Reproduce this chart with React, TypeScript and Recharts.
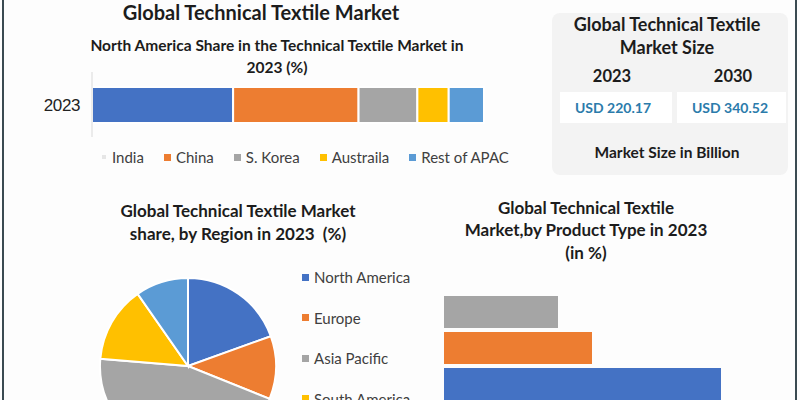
import React from "react";
import { BarChart, Bar, XAxis, YAxis, PieChart, Pie, Cell } from "recharts";

// north america share, stacked bar (values in %)
const barYear = ["2023"];
const apacCountries = ["India", "China", "S. Korea", "Austraila", "Rest of APAC"];
const apacShare = [36, 32, 15, 8, 9];
const apacColors = ["#4472C4", "#ED7D31", "#A5A5A5", "#FFC000", "#5B9BD5"];
const apacLegendColors = ["#e6e6e6", "#ED7D31", "#A5A5A5", "#FFC000", "#5B9BD5"];

// region pie (values in %)
const regionNames = ["North America", "Europe", "Asia Pacific", "South America", "Middle East & Africa"];
const regionShare = [19.5, 11.6, 45.2, 14, 9.7];
const regionColors = ["#4472C4", "#ED7D31", "#A5A5A5", "#FFC000", "#5B9BD5"];

// product type bars (only the top three are visible, labels not shown)
const productTypes = ["Type 1", "Type 2", "Type 3"];
const productShare = [11.4, 14.8, 27.7];
const productColors = ["#A5A5A5", "#ED7D31", "#4472C4"];

// market size panel
const marketYears = ["2023", "2030"];
const marketValues = ["USD 220.17", "USD 340.52"];

const FONT = "Lato, 'Open Sans', sans-serif";
const DARK = "#1c1c1c";

const stackData = barYear.map((year) => {
  const row: Record<string, string | number> = { year };
  apacCountries.forEach((c, i) => (row[c] = apacShare[i]));
  return row;
});

const pieData = regionNames.map((name, i) => ({ name, value: regionShare[i] }));
const productData = productTypes.map((type, i) => ({ type, share: productShare[i] }));

function Text({
  x,
  y,
  w,
  size,
  weight = 700,
  color = DARK,
  children,
}: {
  x: number;
  y: number;
  w: number;
  size: number;
  weight?: number;
  color?: string;
  children: React.ReactNode;
}) {
  // x = center, y = vertical center of the line
  return (
    <div
      style={{
        position: "absolute",
        left: x - w / 2,
        top: y - size * 0.7,
        width: w,
        lineHeight: `${size * 1.4}px`,
        fontSize: size,
        fontWeight: weight,
        color,
        textAlign: "center",
        whiteSpace: "nowrap",
      }}
    >
      {children}
    </div>
  );
}

export default function App() {
  return (
    <div
      style={{
        position: "absolute",
        left: 0,
        top: 0,
        width: 800,
        height: 400,
        overflow: "hidden",
        background: "#fdfdfd",
        fontFamily: FONT,
      }}
    >
      {/* frame lines */}
      <div style={{ position: "absolute", left: 2, top: 0, width: 2, height: 400, background: "#3b4a52" }} />
      <div style={{ position: "absolute", left: 795, top: 0, width: 2, height: 400, background: "#3b4a52" }} />

      {/* top left block */}
      <Text x={261} y={12} w={400} size={20}>
        Global Technical Textile Market
      </Text>
      <Text x={277} y={46} w={480} size={15.5}>
        North America Share in the Technical Textile Market in
      </Text>
      <Text x={277} y={68} w={200} size={15.5}>
        2023 (%)
      </Text>

      <div style={{ position: "absolute", left: 30, top: 72 }}>
        <BarChart
          width={460}
          height={65}
          data={stackData}
          layout="vertical"
          margin={{ top: 0, right: 6, bottom: 0, left: 0 }}
        >
          <XAxis type="number" domain={[0, 100]} hide />
          <YAxis
            type="category"
            dataKey="year"
            width={62}
            axisLine={{ stroke: "#d9d9d9" }}
            tickLine={false}
            tickMargin={6}
            tick={{
              fill: "#222",
              fontSize: 17,
              letterSpacing: -0.4,
              fontFamily: "Arial, 'Liberation Sans', sans-serif",
            }}
          />
          {apacCountries.map((c, i) => (
            <Bar
              key={c}
              dataKey={c}
              stackId="a"
              fill={apacColors[i]}
              stroke="#ffffff"
              strokeWidth={2}
              barSize={36}
              isAnimationActive={false}
            />
          ))}
        </BarChart>
      </div>

      <div style={{ position: "absolute", left: 100, top: 147, display: "flex", alignItems: "center", height: 20 }}>
        {apacCountries.map((c, i) => (
          <div
            key={c}
            style={{ display: "flex", alignItems: "center", marginRight: 20, fontSize: 15, color: "#404040" }}
          >
            <span
              style={{
                display: "inline-block",
                width: i === 0 ? 4 : 7,
                height: i === 0 ? 4 : 7,
                background: apacLegendColors[i],
                marginLeft: i === 0 ? 2 : 0,
                marginRight: i === 0 ? 6 : 5,
              }}
            />
            {c}
          </div>
        ))}
      </div>

      {/* market size panel */}
      <div
        style={{
          position: "absolute",
          left: 552,
          top: 13,
          width: 236,
          height: 162,
          background: "#f3f3f3",
          borderRadius: 8,
        }}
      />
      <Text x={667} y={25} w={230} size={18}>
        Global Technical Textile
      </Text>
      <Text x={667} y={48} w={230} size={18}>
        Market Size
      </Text>
      {marketYears.map((y, i) => (
        <Text key={y} x={[612, 733][i]} y={77} w={100} size={16.5}>
          {y}
        </Text>
      ))}
      {marketValues.map((v, i) => (
        <div
          key={v}
          style={{
            position: "absolute",
            left: [560, 677][i],
            top: 92,
            width: [112, 109][i],
            height: 31,
            background: "#ffffff",
          }}
        />
      ))}
      {marketValues.map((v, i) => (
        <Text key={v} x={[613, 730][i]} y={108} w={110} size={14} color="#2b7bab">
          {v}
        </Text>
      ))}
      <Text x={667} y={153} w={230} size={15.5}>
        Market Size in Billion
      </Text>

      {/* region pie */}
      <Text x={238} y={211} w={320} size={17}>
        Global Technical Textile Market
      </Text>
      <Text x={238} y={234} w={320} size={17}>
        share, by Region in 2023&nbsp;&nbsp;(%)
      </Text>
      <div style={{ position: "absolute", left: 80, top: 260 }}>
        <PieChart width={220} height={200} margin={{ top: 0, right: 0, bottom: 0, left: 0 }}>
          <Pie
            data={pieData}
            dataKey="value"
            nameKey="name"
            cx={108}
            cy={106}
            outerRadius={88}
            startAngle={90}
            endAngle={-270}
            stroke="#ffffff"
            strokeWidth={2}
            isAnimationActive={false}
          >
            {pieData.map((d, i) => (
              <Cell key={d.name} fill={regionColors[i]} />
            ))}
          </Pie>
        </PieChart>
      </div>
      {regionNames.map((n, i) => (
        <div
          key={n}
          style={{
            position: "absolute",
            left: 302,
            top: 267 + i * 40.5,
            height: 20,
            display: "flex",
            alignItems: "center",
            fontSize: 15,
            color: "#404040",
            whiteSpace: "nowrap",
          }}
        >
          <span style={{ display: "inline-block", width: 7, height: 7, background: regionColors[i], marginRight: 5 }} />
          {n}
        </div>
      ))}

      {/* product type bars */}
      <Text x={586} y={208} w={320} size={17}>
        Global Technical Textile
      </Text>
      <Text x={586} y={230} w={320} size={17}>
        Market,by Product Type in 2023
      </Text>
      <Text x={586} y={253} w={320} size={17}>
        (in %)
      </Text>
      <div style={{ position: "absolute", left: 444, top: 294 }}>
        <BarChart
          width={300}
          height={108}
          data={productData}
          layout="vertical"
          barCategoryGap={2}
          margin={{ top: 0, right: 0, bottom: 0, left: 0 }}
        >
          <XAxis type="number" domain={[0, 30]} hide />
          <YAxis type="category" dataKey="type" hide />
          <Bar dataKey="share" isAnimationActive={false}>
            {productData.map((d, i) => (
              <Cell key={d.type} fill={productColors[i]} />
            ))}
          </Bar>
        </BarChart>
      </div>
    </div>
  );
}
